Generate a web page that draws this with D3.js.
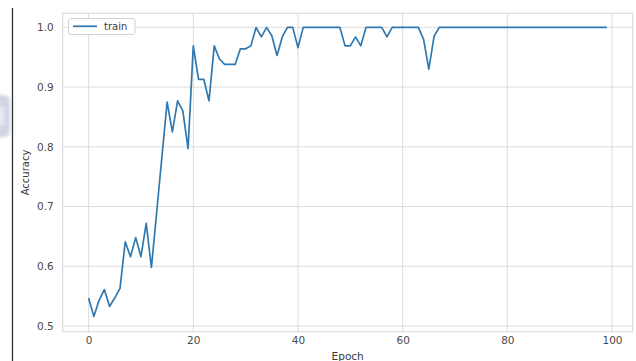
<!DOCTYPE html>
<html>
<head>
<meta charset="utf-8">
<script src="https://cdn.jsdelivr.net/npm/d3@7/dist/d3.min.js"></script>
<style>
  html, body { margin: 0; padding: 0; background: #fff; }
  svg { display: block; }
  text { font-family: "DejaVu Sans", sans-serif; }
</style>
</head>
<body>
<svg id="chart" width="636" height="361"></svg>
<script>
// Training accuracy per epoch
const epochs = d3.range(0, 100);
const trainAccuracy = [
  0.547, 0.516, 0.543, 0.561, 0.533, 0.547, 0.563, 0.641, 0.616, 0.648,
  0.616, 0.672, 0.598, 0.690, 0.783, 0.875, 0.825, 0.877, 0.860, 0.797,
  0.969, 0.913, 0.913, 0.877, 0.969, 0.947, 0.938, 0.938, 0.938, 0.964,
  0.964, 0.969, 1.000, 0.984, 1.000, 0.986, 0.953, 0.984, 1.000, 1.000,
  0.966, 1.000, 1.000, 1.000, 1.000, 1.000, 1.000, 1.000, 1.000, 0.969,
  0.969, 0.984, 0.969, 1.000, 1.000, 1.000, 1.000, 0.984, 1.000, 1.000,
  1.000, 1.000, 1.000, 1.000, 0.980, 0.930, 0.985, 1.000, 1.000, 1.000,
  1.000, 1.000, 1.000, 1.000, 1.000, 1.000, 1.000, 1.000, 1.000, 1.000,
  1.000, 1.000, 1.000, 1.000, 1.000, 1.000, 1.000, 1.000, 1.000, 1.000,
  1.000, 1.000, 1.000, 1.000, 1.000, 1.000, 1.000, 1.000, 1.000, 1.000
];
const xTicks = [0, 20, 40, 60, 80, 100];
const yTicks = [0.5, 0.6, 0.7, 0.8, 0.9, 1.0];
const seriesName = "train";

const svg = d3.select("#chart");
const plot = { left: 62.7, right: 632.7, top: 13.3, bottom: 331.7 };

const x = d3.scaleLinear().domain([-4.95, 103.95]).range([plot.left, plot.right]);
const y = d3.scaleLinear().domain([0.4905, 1.0235]).range([plot.bottom, plot.top]);

// soft badge at the left margin and the page edge
const defs = svg.append("defs");
defs.append("filter").attr("id", "soft").attr("x", "-50%").attr("y", "-50%")
  .attr("width", "200%").attr("height", "200%")
  .append("feGaussianBlur").attr("stdDeviation", 1.6);
const badge = svg.append("g").attr("filter", "url(#soft)");
badge.append("rect").attr("x", -12).attr("y", 95).attr("width", 22).attr("height", 42)
  .attr("rx", 6).attr("fill", "#d2d5e6");
badge.append("rect").attr("x", -5).attr("y", 106).attr("width", 9).attr("height", 20)
  .attr("rx", 3).attr("fill", "#e6e8f2");
svg.append("line").attr("x1", 12.5).attr("x2", 12.5).attr("y1", 8).attr("y2", 361)
  .attr("stroke", "#333").attr("stroke-width", 1.3);

// grid
const grid = svg.append("g").attr("stroke", "#dcdcdc").attr("stroke-width", 1);
grid.selectAll(".gx").data(xTicks).join("line")
  .attr("x1", d => x(d)).attr("x2", d => x(d))
  .attr("y1", plot.top).attr("y2", plot.bottom);
grid.selectAll(".gy").data(yTicks).join("line")
  .attr("x1", plot.left).attr("x2", plot.right)
  .attr("y1", d => y(d)).attr("y2", d => y(d));

// frame
svg.append("rect")
  .attr("x", plot.left).attr("y", plot.top)
  .attr("width", plot.right - plot.left).attr("height", plot.bottom - plot.top)
  .attr("fill", "none").attr("stroke", "#d6d6d6").attr("stroke-width", 1);

// axes (labels only, no tick marks)
const xAxis = svg.append("g").attr("transform", `translate(0,${plot.bottom})`)
  .call(d3.axisBottom(x).tickValues(xTicks).tickSize(0).tickPadding(5).tickFormat(d3.format("d")));
const yAxis = svg.append("g").attr("transform", `translate(${plot.left},0)`)
  .call(d3.axisLeft(y).tickValues(yTicks).tickSize(0).tickPadding(9).tickFormat(d3.format(".1f")));
[xAxis, yAxis].forEach(a => {
  a.select(".domain").remove();
  a.selectAll("text").attr("font-size", 10.5).attr("fill", "#4a4a4a")
    .attr("font-family", "DejaVu Sans, sans-serif");
});

// axis titles
svg.append("text").attr("x", (plot.left + plot.right) / 2).attr("y", 359.5)
  .attr("text-anchor", "middle").attr("font-size", 10.5).attr("fill", "#3a3a3a").text("Epoch");
svg.append("text").attr("transform", `translate(28.5,${(plot.top + plot.bottom) / 2}) rotate(-90)`)
  .attr("text-anchor", "middle").attr("font-size", 10).attr("fill", "#3a3a3a").text("Accuracy");

// series line
const line = d3.line().x((d, i) => x(epochs[i])).y(d => y(d));
svg.append("path").datum(trainAccuracy)
  .attr("d", line).attr("fill", "none")
  .attr("stroke", "#3079b0").attr("stroke-width", 1.7)
  .attr("stroke-linejoin", "round");

// legend
const lg = svg.append("g").attr("transform", "translate(68.5,18.5)");
lg.append("rect").attr("width", 66.5).attr("height", 16).attr("rx", 2.5)
  .attr("fill", "#fff").attr("stroke", "#d2d2d2").attr("stroke-width", 1);
lg.append("line").attr("x1", 4.5).attr("x2", 28.5).attr("y1", 7.8).attr("y2", 7.8)
  .attr("stroke", "#3079b0").attr("stroke-width", 1.7);
lg.append("text").attr("x", 35.5).attr("y", 11.6).attr("font-size", 10)
  .attr("fill", "#3a3a3a").text(seriesName);
</script>
</body>
</html>
